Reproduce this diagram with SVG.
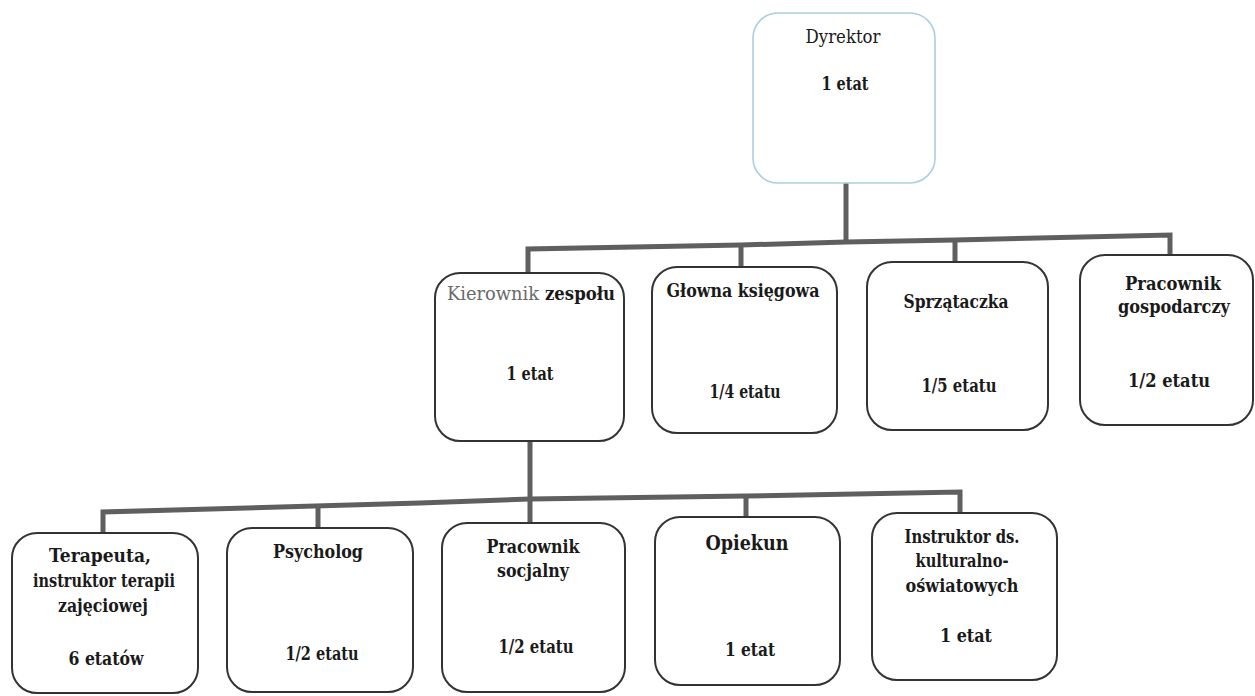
<svg xmlns="http://www.w3.org/2000/svg" width="1255" height="696" viewBox="0 0 1255 696">
<style>
.box{fill:#fff;stroke:#333;stroke-width:2}
.top{fill:#fff;stroke:#a9cfe0;stroke-width:1.6}
.t{font-family:'DejaVu Serif','Liberation Serif',serif;font-size:18px;font-weight:bold;fill:#1a1a1a;text-anchor:middle}
.s{text-anchor:start}
.c{fill:none;stroke:#5f5f5f;stroke-width:5;stroke-linejoin:miter}
</style>
<rect width="1255" height="696" fill="#fff"/>
<g id="connectors">
<line class="c" x1="846" y1="183" x2="846" y2="242"/>
<polyline class="c" points="528,273 528,249 741,245 846,242 955,240 1170,235 1170,255"/>
<line class="c" x1="741" y1="245" x2="741" y2="267"/>
<line class="c" x1="955" y1="240" x2="955" y2="262"/>
<line class="c" x1="530" y1="441" x2="530" y2="523"/>
<polyline class="c" points="103,533 103,512 420,503 530,499 746,496 960,492 960,513"/>
<line class="c" x1="318" y1="505" x2="318" y2="528"/>
<line class="c" x1="746" y1="496" x2="746" y2="517"/>
</g>
<g id="dyrektor">
<rect class="top" x="753" y="13" width="182" height="170" rx="25"/>
<text class="t" x="843" y="43" textLength="75" lengthAdjust="spacingAndGlyphs" style="font-weight:normal;font-size:19px">Dyrektor</text>
<text class="t" x="845" y="90" textLength="47" lengthAdjust="spacingAndGlyphs">1 etat</text>
</g>
<g id="kierownik">
<rect class="box" x="435" y="273" width="189" height="168" rx="25"/>
<text class="t s" x="447" y="300" textLength="92" lengthAdjust="spacingAndGlyphs" style="font-weight:normal;font-size:19px;fill:#6a6a6a">Kierownik</text>
<text class="t s" x="545" y="300" textLength="70" lengthAdjust="spacingAndGlyphs" style="font-size:19px">zespołu</text>
<text class="t" x="530" y="380" textLength="47" lengthAdjust="spacingAndGlyphs">1 etat</text>
</g>
<g id="glowna">
<rect class="box" x="652" y="267" width="185" height="166" rx="25"/>
<text class="t" x="743" y="297" textLength="153" lengthAdjust="spacingAndGlyphs" style="font-size:19px">Głowna księgowa</text>
<text class="t" x="745" y="398" textLength="71" lengthAdjust="spacingAndGlyphs">1/4 etatu</text>
</g>
<g id="sprzataczka">
<rect class="box" x="867" y="262" width="181" height="168" rx="25"/>
<text class="t" x="956" y="308" textLength="105" lengthAdjust="spacingAndGlyphs">Sprzątaczka</text>
<text class="t" x="959" y="392" textLength="75" lengthAdjust="spacingAndGlyphs">1/5 etatu</text>
</g>
<g id="gospodarczy">
<rect class="box" x="1080" y="255" width="173" height="170" rx="25"/>
<text class="t" x="1173" y="290" textLength="96" lengthAdjust="spacingAndGlyphs">Pracownik</text>
<text class="t" x="1174" y="313" textLength="112" lengthAdjust="spacingAndGlyphs">gospodarczy</text>
<text class="t" x="1169" y="387" textLength="82" lengthAdjust="spacingAndGlyphs">1/2 etatu</text>
</g>
<g id="terapeuta">
<rect class="box" x="12" y="533" width="186" height="160" rx="25"/>
<text class="t" x="100" y="562" textLength="102" lengthAdjust="spacingAndGlyphs">Terapeuta,</text>
<text class="t" x="104" y="587" textLength="142" lengthAdjust="spacingAndGlyphs">instruktor terapii</text>
<text class="t" x="103" y="612" textLength="90" lengthAdjust="spacingAndGlyphs">zajęciowej</text>
<text class="t" x="106" y="665" textLength="75" lengthAdjust="spacingAndGlyphs">6 etatów</text>
</g>
<g id="psycholog">
<rect class="box" x="227" y="528" width="186" height="164" rx="25"/>
<text class="t" x="318" y="558" textLength="90" lengthAdjust="spacingAndGlyphs">Psycholog</text>
<text class="t" x="322" y="660" textLength="73" lengthAdjust="spacingAndGlyphs">1/2 etatu</text>
</g>
<g id="socjalny">
<rect class="box" x="442" y="523" width="183" height="169" rx="25"/>
<text class="t" x="533" y="553" textLength="93" lengthAdjust="spacingAndGlyphs">Pracownik</text>
<text class="t" x="533" y="577" textLength="72" lengthAdjust="spacingAndGlyphs">socjalny</text>
<text class="t" x="536" y="653" textLength="75" lengthAdjust="spacingAndGlyphs">1/2 etatu</text>
</g>
<g id="opiekun">
<rect class="box" x="655" y="517" width="185" height="168" rx="25"/>
<text class="t" x="747" y="550" textLength="83" lengthAdjust="spacingAndGlyphs" style="font-size:21px">Opiekun</text>
<text class="t" x="750" y="656" textLength="50" lengthAdjust="spacingAndGlyphs">1 etat</text>
</g>
<g id="instruktor">
<rect class="box" x="872" y="513" width="185" height="167" rx="25"/>
<text class="t" x="962" y="543" textLength="115" lengthAdjust="spacingAndGlyphs">Instruktor ds.</text>
<text class="t" x="962" y="567" textLength="93" lengthAdjust="spacingAndGlyphs">kulturalno-</text>
<text class="t" x="962" y="592" textLength="113" lengthAdjust="spacingAndGlyphs">oświatowych</text>
<text class="t" x="966" y="642" textLength="52" lengthAdjust="spacingAndGlyphs">1 etat</text>
</g>
</svg>
